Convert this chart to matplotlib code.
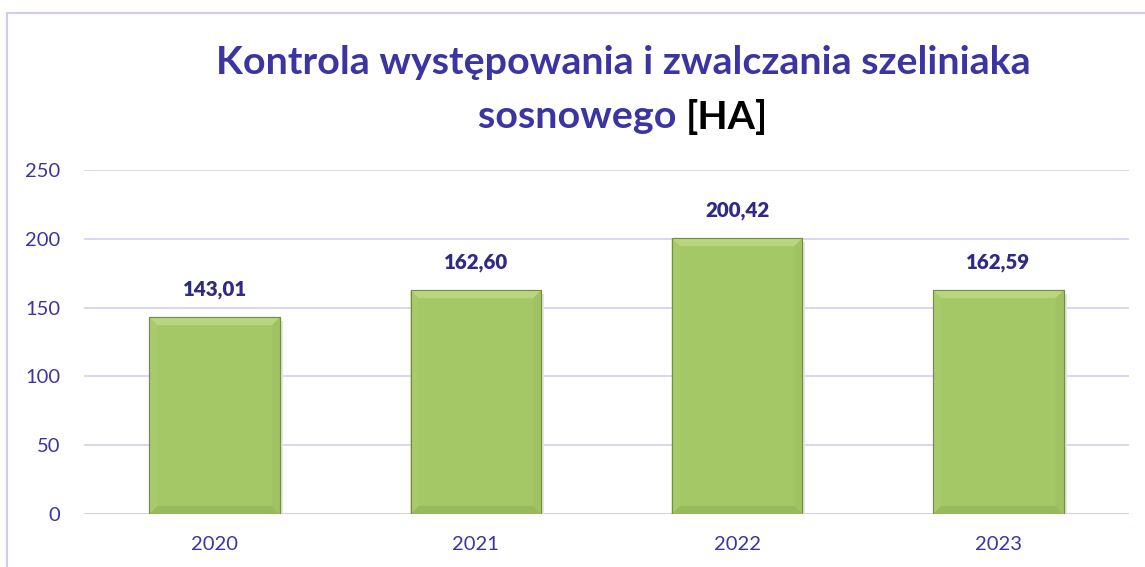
import matplotlib
matplotlib.use("Agg")
import matplotlib.pyplot as plt
from matplotlib.patches import Rectangle, Polygon

years = ["2020", "2021", "2022", "2023"]
areas = [143.01, 162.60, 200.42, 162.59]
area_labels = ["143,01", "162,60", "200,42", "162,59"]
y_ticks = [0, 50, 100, 150, 200, 250]

PURPLE = "#3B34A3"
LABEL = "#2E2A86"
GRID = "#D3CFF0"
GREEN = "#A5C866"

plt.rcParams["font.family"] = ["Lato", "DejaVu Sans"]

fig = plt.figure(figsize=(11.45, 5.67), dpi=100, facecolor="white")
W, H = 1145, 567

# outer chart border (left and top edges visible)
fig.patches.append(Rectangle((7 / W, -0.1), 1.2, 0.1 + (H - 13) / H,
                             transform=fig.transFigure, fill=False,
                             edgecolor="#D0CCEE", linewidth=1.5))

ax = fig.add_axes([84 / W, (H - 514) / H, (1129 - 84) / W, (514 - 170) / H])
ax.set_xlim(-0.5, len(years) - 0.5)
ax.set_ylim(0, 250)
ax.set_yticks(y_ticks)
ax.set_xticks(range(len(years)))
ax.set_xticklabels(years)
for s in ax.spines.values():
    s.set_visible(False)
ax.tick_params(length=0, labelsize=14.5, colors=PURPLE)
ax.tick_params(axis="x", pad=16)
ax.tick_params(axis="y", pad=17)
ax.grid(axis="y", color=GRID, linewidth=1.2)
ax.set_axisbelow(True)
ax.axhline(0, color=GRID, linewidth=2, zorder=1)

bars = ax.bar(range(len(years)), areas, width=0.5, color=GREEN,
              edgecolor="#6F8F3C", linewidth=0.8, zorder=2)

# subtle bevel effect on bars
fig.canvas.draw()
inv = ax.transData.inverted()
for b in bars:
    x0, y0 = b.get_x(), b.get_y()
    x1, y1 = x0 + b.get_width(), y0 + b.get_height()
    (px0, py0) = ax.transData.transform((x0, y0))
    (px1, py1) = ax.transData.transform((x1, y1))
    d = 8
    def P(px, py):
        return inv.transform((px, py))
    top = [P(px0, py1), P(px1, py1), P(px1 - d, py1 - d), P(px0 + d, py1 - d)]
    bot = [P(px0, py0), P(px1, py0), P(px1 - d, py0 + d), P(px0 + d, py0 + d)]
    left = [P(px0, py0), P(px0, py1), P(px0 + d, py1 - d), P(px0 + d, py0 + d)]
    right = [P(px1, py0), P(px1, py1), P(px1 - d, py1 - d), P(px1 - d, py0 + d)]
    ax.add_patch(Polygon(top, closed=True, facecolor="#BAD580", edgecolor="none", zorder=3))
    ax.add_patch(Polygon(bot, closed=True, facecolor="#98BA5D", edgecolor="none", zorder=3))
    ax.add_patch(Polygon(left, closed=True, facecolor="#A8CA6B", edgecolor="none", zorder=3))
    ax.add_patch(Polygon(right, closed=True, facecolor="#A0C263", edgecolor="none", zorder=3))
    # soft shadow
    sh = [P(px1, py0 - 2), P(px1 + 3, py0 - 2), P(px1 + 3, py1 - 4), P(px1, py1 - 4)]
    ax.add_patch(Polygon(sh, closed=True, facecolor="#E4E4E4", edgecolor="none", zorder=1.5))
    ax.add_patch(Rectangle((x0, y0), b.get_width(), b.get_height(), fill=False,
                           edgecolor="#728F40", linewidth=0.8, zorder=4))

for b, lab in zip(bars, area_labels):
    ax.annotate(lab, (b.get_x() + b.get_width() / 2, b.get_height()),
                xytext=(0, 13), textcoords="offset points", ha="center", va="bottom",
                fontsize=14.8, fontweight="heavy", color=LABEL)

# title
TSIZE = 28.4
fig.text(623 / W, 1 - 62 / H, "Kontrola występowania i zwalczania szeliniaka",
         ha="center", va="center", fontsize=TSIZE, fontweight="bold", color=PURPLE)
t1 = fig.text(0, 1 - 117 / H, "sosnowego ", ha="left", va="center",
              fontsize=TSIZE, fontweight="bold", color=PURPLE)
t2 = fig.text(0, 1 - 117 / H, "[HA]", ha="left", va="center",
              fontsize=TSIZE, fontweight="bold", color="black")
r = fig.canvas.get_renderer()
w1 = t1.get_window_extent(r).width
w2 = t2.get_window_extent(r).width
start = 623 - (w1 + w2) / 2
t1.set_x(start / W)
t2.set_x((start + w1) / W)

fig.savefig("out.png", dpi=100, facecolor="white")
